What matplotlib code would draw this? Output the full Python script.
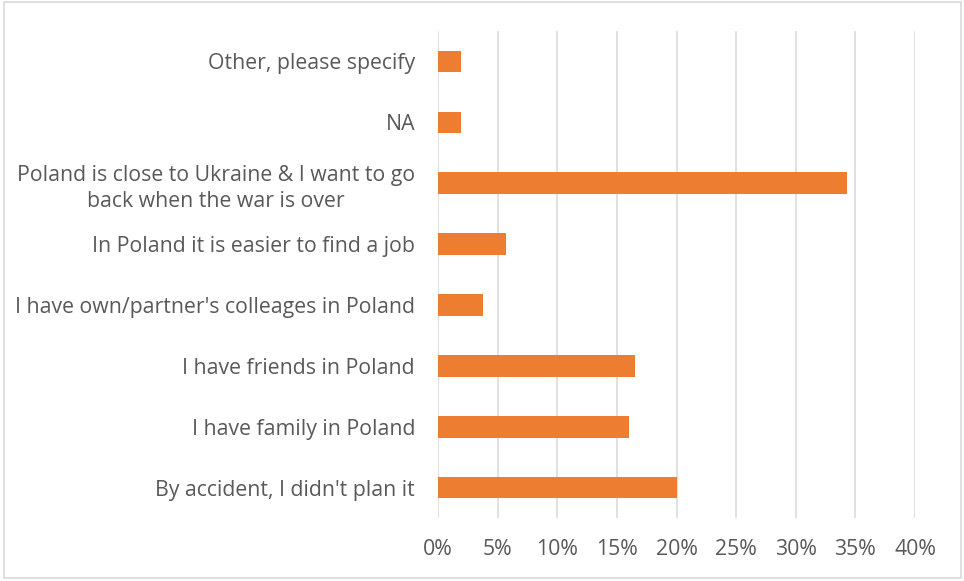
import matplotlib
matplotlib.use('Agg')
import matplotlib.pyplot as plt
from matplotlib.patches import Rectangle
from matplotlib.ticker import FuncFormatter

plt.rcParams['font.family'] = ['Open Sans', 'DejaVu Sans']

# reasons for choosing Poland, bottom to top
reasons = [
    "By accident, I didn't plan it",
    "I have family in Poland",
    "I have friends in Poland",
    "I have own/partner's colleages in Poland",
    "In Poland it is easier to find a job",
    "Poland is close to Ukraine & I want to go\nback when the war is over",
    "NA",
    "Other, please specify",
]
shares = [20.0, 16.0, 16.5, 3.8, 5.7, 34.3, 1.9, 1.9]
xticks = [0, 5, 10, 15, 20, 25, 30, 35, 40]

fig = plt.figure(figsize=(9.64, 5.81), dpi=100)
ax = fig.add_axes([0.4544, 0.1084, 0.4948, 0.8382])

ax.barh(range(len(reasons)), shares, height=0.355, color='#ED7D31', zorder=3)

ax.set_xlim(0, 40)
ax.set_ylim(-0.5, len(reasons) - 0.5)
ax.set_xticks(xticks)
ax.xaxis.set_major_formatter(FuncFormatter(lambda v, p: f"{v:.0f}%"))
ax.set_yticks(range(len(reasons)))
ax.set_yticklabels(reasons)
for t in ax.get_yticklabels():
    t.set_multialignment('center')
    t.set_linespacing(1.3)

ax.grid(axis='x', color='#D9D9D9', linewidth=1.1, zorder=0)
ax.tick_params(axis='both', length=0, labelsize=15.3, colors='#595959')
ax.tick_params(axis='y', pad=16.5)
ax.tick_params(axis='x', pad=15)
for s in ax.spines.values():
    s.set_visible(False)

# light frame around the whole chart
fig.patches.append(Rectangle((0.004, 0.006), 0.993, 0.99, transform=fig.transFigure,
                             fill=False, edgecolor='#D9D9D9', linewidth=1.2))

fig.savefig('out.png', dpi=100)
